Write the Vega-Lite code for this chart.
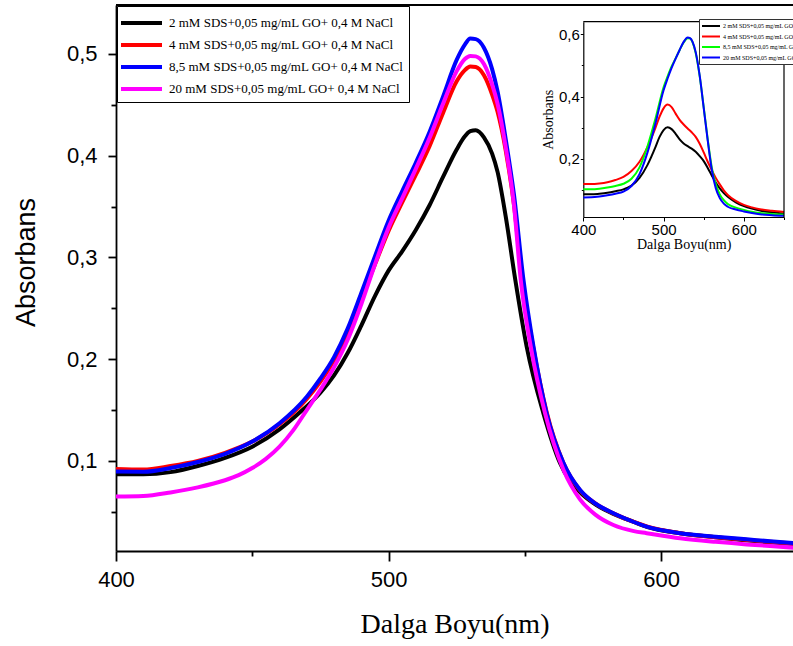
{
  "$schema": "https://vega.github.io/schema/vega-lite/v6.json",
  "autosize": {"type": "none"},
  "padding": {"left": 116, "top": 5, "right": 0, "bottom": 95},
  "width": 677,
  "height": 546,
  "background": "white",
  "config": {
    "view": {"stroke": null},
    "font": "Liberation Sans",
    "axis": {"grid": false, "labelFlush": false, "domainColor": "black", "tickColor": "black", "labelColor": "black", "titleColor": "black", "titleFontWeight": "normal"}
  },
  "datasets": {
    "main": [
      {"c":"2","nm":400,"a":0.087},{"c":"2","nm":410,"a":0.0868},{"c":"2","nm":420,"a":0.089},{"c":"2","nm":430,"a":0.095},{"c":"2","nm":440,"a":0.103},{"c":"2","nm":450,"a":0.114},{"c":"2","nm":460,"a":0.131},{"c":"2","nm":468,"a":0.149},{"c":"2","nm":475,"a":0.167},{"c":"2","nm":480,"a":0.184},{"c":"2","nm":485,"a":0.206},{"c":"2","nm":490,"a":0.233},{"c":"2","nm":495,"a":0.262},{"c":"2","nm":500,"a":0.287},{"c":"2","nm":505,"a":0.306},{"c":"2","nm":510,"a":0.327},{"c":"2","nm":515,"a":0.351},{"c":"2","nm":520,"a":0.379},{"c":"2","nm":525,"a":0.406},{"c":"2","nm":528,"a":0.419},{"c":"2","nm":530,"a":0.424},{"c":"2","nm":532,"a":0.425},{"c":"2","nm":535,"a":0.418},{"c":"2","nm":538,"a":0.402},{"c":"2","nm":540,"a":0.384},{"c":"2","nm":543,"a":0.34},{"c":"2","nm":546.5,"a":0.278},{"c":"2","nm":550.7,"a":0.212},{"c":"2","nm":556.8,"a":0.147},{"c":"2","nm":562.9,"a":0.098},{"c":"2","nm":570,"a":0.07},{"c":"2","nm":576,"a":0.057},{"c":"2","nm":582.5,"a":0.048},{"c":"2","nm":590,"a":0.04},{"c":"2","nm":595,"a":0.035},{"c":"2","nm":607,"a":0.029},{"c":"2","nm":620,"a":0.025},{"c":"2","nm":631,"a":0.022},{"c":"2","nm":640,"a":0.02},{"c":"2","nm":650,"a":0.018},
      {"c":"4","nm":400,"a":0.092},{"c":"4","nm":410,"a":0.0915},{"c":"4","nm":420,"a":0.095},{"c":"4","nm":430,"a":0.1},{"c":"4","nm":440,"a":0.108},{"c":"4","nm":450,"a":0.119},{"c":"4","nm":460,"a":0.136},{"c":"4","nm":470,"a":0.161},{"c":"4","nm":475,"a":0.178},{"c":"4","nm":480,"a":0.199},{"c":"4","nm":485,"a":0.226},{"c":"4","nm":490,"a":0.259},{"c":"4","nm":495,"a":0.293},{"c":"4","nm":500,"a":0.326},{"c":"4","nm":505,"a":0.354},{"c":"4","nm":510,"a":0.381},{"c":"4","nm":515,"a":0.409},{"c":"4","nm":520,"a":0.442},{"c":"4","nm":525,"a":0.473},{"c":"4","nm":528,"a":0.484},{"c":"4","nm":530,"a":0.4875},{"c":"4","nm":532,"a":0.487},{"c":"4","nm":535,"a":0.479},{"c":"4","nm":538,"a":0.46},{"c":"4","nm":540,"a":0.443},{"c":"4","nm":543,"a":0.405},{"c":"4","nm":546,"a":0.352},{"c":"4","nm":549,"a":0.279},{"c":"4","nm":553,"a":0.213},{"c":"4","nm":558,"a":0.148},{"c":"4","nm":564,"a":0.099},{"c":"4","nm":570,"a":0.072},{"c":"4","nm":576,"a":0.058},{"c":"4","nm":582.5,"a":0.0485},{"c":"4","nm":590,"a":0.04},{"c":"4","nm":595,"a":0.0355},{"c":"4","nm":607,"a":0.029},{"c":"4","nm":620,"a":0.025},{"c":"4","nm":631,"a":0.0225},{"c":"4","nm":640,"a":0.0205},{"c":"4","nm":650,"a":0.0185},
      {"c":"8,5","nm":400,"a":0.0895},{"c":"8,5","nm":410,"a":0.0893},{"c":"8,5","nm":420,"a":0.093},{"c":"8,5","nm":430,"a":0.099},{"c":"8,5","nm":440,"a":0.107},{"c":"8,5","nm":450,"a":0.119},{"c":"8,5","nm":460,"a":0.137},{"c":"8,5","nm":470,"a":0.163},{"c":"8,5","nm":475,"a":0.181},{"c":"8,5","nm":480,"a":0.202},{"c":"8,5","nm":485,"a":0.23},{"c":"8,5","nm":490,"a":0.265},{"c":"8,5","nm":495,"a":0.301},{"c":"8,5","nm":500,"a":0.336},{"c":"8,5","nm":505,"a":0.365},{"c":"8,5","nm":510,"a":0.393},{"c":"8,5","nm":515,"a":0.423},{"c":"8,5","nm":520,"a":0.458},{"c":"8,5","nm":525,"a":0.494},{"c":"8,5","nm":528,"a":0.509},{"c":"8,5","nm":530,"a":0.515},{"c":"8,5","nm":532,"a":0.5145},{"c":"8,5","nm":535,"a":0.506},{"c":"8,5","nm":538,"a":0.485},{"c":"8,5","nm":540,"a":0.463},{"c":"8,5","nm":543,"a":0.416},{"c":"8,5","nm":546,"a":0.362},{"c":"8,5","nm":549.5,"a":0.278},{"c":"8,5","nm":553.2,"a":0.212},{"c":"8,5","nm":558,"a":0.147},{"c":"8,5","nm":564.2,"a":0.098},{"c":"8,5","nm":570.3,"a":0.0715},{"c":"8,5","nm":576,"a":0.058},{"c":"8,5","nm":582.5,"a":0.0486},{"c":"8,5","nm":590,"a":0.04},{"c":"8,5","nm":594.7,"a":0.0354},{"c":"8,5","nm":607,"a":0.029},{"c":"8,5","nm":620,"a":0.0255},{"c":"8,5","nm":631.4,"a":0.023},{"c":"8,5","nm":640,"a":0.021},{"c":"8,5","nm":650,"a":0.019},
      {"c":"20","nm":400,"a":0.065},{"c":"20","nm":410,"a":0.0655},{"c":"20","nm":420,"a":0.069},{"c":"20","nm":430,"a":0.074},{"c":"20","nm":440,"a":0.081},{"c":"20","nm":445,"a":0.086},{"c":"20","nm":450,"a":0.093},{"c":"20","nm":455,"a":0.102},{"c":"20","nm":460,"a":0.114},{"c":"20","nm":465,"a":0.13},{"c":"20","nm":470,"a":0.15},{"c":"20","nm":475,"a":0.17},{"c":"20","nm":480,"a":0.192},{"c":"20","nm":485,"a":0.219},{"c":"20","nm":490,"a":0.254},{"c":"20","nm":495,"a":0.293},{"c":"20","nm":500,"a":0.329},{"c":"20","nm":505,"a":0.358},{"c":"20","nm":510,"a":0.387},{"c":"20","nm":515,"a":0.417},{"c":"20","nm":520,"a":0.451},{"c":"20","nm":525,"a":0.483},{"c":"20","nm":528,"a":0.495},{"c":"20","nm":530,"a":0.498},{"c":"20","nm":532,"a":0.4975},{"c":"20","nm":535,"a":0.49},{"c":"20","nm":538,"a":0.47},{"c":"20","nm":540,"a":0.451},{"c":"20","nm":543,"a":0.408},{"c":"20","nm":546,"a":0.352},{"c":"20","nm":548.5,"a":0.278},{"c":"20","nm":552.2,"a":0.212},{"c":"20","nm":557.4,"a":0.147},{"c":"20","nm":564.2,"a":0.091},{"c":"20","nm":570.3,"a":0.062},{"c":"20","nm":576,"a":0.047},{"c":"20","nm":582.5,"a":0.037},{"c":"20","nm":590,"a":0.031},{"c":"20","nm":594.7,"a":0.029},{"c":"20","nm":607,"a":0.024},{"c":"20","nm":620,"a":0.0205},{"c":"20","nm":631.4,"a":0.018},{"c":"20","nm":640,"a":0.0165},{"c":"20","nm":650,"a":0.0145}
    ],
    "inset": [
      {"c":"2","nm":400,"a":0.085},{"c":"2","nm":410,"a":0.085},{"c":"2","nm":420,"a":0.087},{"c":"2","nm":430,"a":0.09},{"c":"2","nm":440,"a":0.095},{"c":"2","nm":450,"a":0.101},{"c":"2","nm":460,"a":0.113},{"c":"2","nm":470,"a":0.138},{"c":"2","nm":480,"a":0.18},{"c":"2","nm":490,"a":0.238},{"c":"2","nm":495,"a":0.27},{"c":"2","nm":500,"a":0.292},{"c":"2","nm":505,"a":0.301},{"c":"2","nm":510,"a":0.295},{"c":"2","nm":515,"a":0.28},{"c":"2","nm":520,"a":0.262},{"c":"2","nm":525,"a":0.249},{"c":"2","nm":530,"a":0.24},{"c":"2","nm":535,"a":0.232},{"c":"2","nm":540,"a":0.222},{"c":"2","nm":545,"a":0.208},{"c":"2","nm":550,"a":0.192},{"c":"2","nm":555,"a":0.17},{"c":"2","nm":560,"a":0.146},{"c":"2","nm":565,"a":0.123},{"c":"2","nm":570,"a":0.104},{"c":"2","nm":575,"a":0.089},{"c":"2","nm":580,"a":0.077},{"c":"2","nm":590,"a":0.059},{"c":"2","nm":600,"a":0.047},{"c":"2","nm":610,"a":0.039},{"c":"2","nm":620,"a":0.033},{"c":"2","nm":635,"a":0.027},{"c":"2","nm":650,"a":0.023},
      {"c":"4","nm":400,"a":0.118},{"c":"4","nm":410,"a":0.118},{"c":"4","nm":420,"a":0.12},{"c":"4","nm":430,"a":0.124},{"c":"4","nm":440,"a":0.131},{"c":"4","nm":450,"a":0.141},{"c":"4","nm":460,"a":0.16},{"c":"4","nm":470,"a":0.19},{"c":"4","nm":480,"a":0.238},{"c":"4","nm":490,"a":0.3},{"c":"4","nm":495,"a":0.335},{"c":"4","nm":500,"a":0.362},{"c":"4","nm":505,"a":0.374},{"c":"4","nm":510,"a":0.366},{"c":"4","nm":515,"a":0.345},{"c":"4","nm":520,"a":0.325},{"c":"4","nm":525,"a":0.31},{"c":"4","nm":530,"a":0.297},{"c":"4","nm":535,"a":0.285},{"c":"4","nm":540,"a":0.27},{"c":"4","nm":545,"a":0.248},{"c":"4","nm":550,"a":0.22},{"c":"4","nm":555,"a":0.19},{"c":"4","nm":560,"a":0.163},{"c":"4","nm":565,"a":0.138},{"c":"4","nm":570,"a":0.117},{"c":"4","nm":575,"a":0.098},{"c":"4","nm":580,"a":0.083},{"c":"4","nm":590,"a":0.064},{"c":"4","nm":600,"a":0.051},{"c":"4","nm":610,"a":0.043},{"c":"4","nm":620,"a":0.037},{"c":"4","nm":635,"a":0.032},{"c":"4","nm":650,"a":0.028},
      {"c":"8,5","nm":400,"a":0.101},{"c":"8,5","nm":410,"a":0.101},{"c":"8,5","nm":420,"a":0.103},{"c":"8,5","nm":430,"a":0.107},{"c":"8,5","nm":440,"a":0.112},{"c":"8,5","nm":450,"a":0.119},{"c":"8,5","nm":460,"a":0.135},{"c":"8,5","nm":470,"a":0.172},{"c":"8,5","nm":480,"a":0.24},{"c":"8,5","nm":490,"a":0.33},{"c":"8,5","nm":500,"a":0.43},{"c":"8,5","nm":505,"a":0.465},{"c":"8,5","nm":510,"a":0.497},{"c":"8,5","nm":515,"a":0.523},{"c":"8,5","nm":520,"a":0.55},{"c":"8,5","nm":525,"a":0.574},{"c":"8,5","nm":530,"a":0.588},{"c":"8,5","nm":533,"a":0.587},{"c":"8,5","nm":536,"a":0.575},{"c":"8,5","nm":540,"a":0.54},{"c":"8,5","nm":545,"a":0.465},{"c":"8,5","nm":550,"a":0.365},{"c":"8,5","nm":555,"a":0.262},{"c":"8,5","nm":560,"a":0.172},{"c":"8,5","nm":565,"a":0.118},{"c":"8,5","nm":570,"a":0.085},{"c":"8,5","nm":575,"a":0.066},{"c":"8,5","nm":580,"a":0.054},{"c":"8,5","nm":590,"a":0.042},{"c":"8,5","nm":600,"a":0.035},{"c":"8,5","nm":610,"a":0.029},{"c":"8,5","nm":620,"a":0.025},{"c":"8,5","nm":635,"a":0.022},{"c":"8,5","nm":650,"a":0.02},
      {"c":"20","nm":400,"a":0.075},{"c":"20","nm":410,"a":0.0755},{"c":"20","nm":420,"a":0.078},{"c":"20","nm":430,"a":0.082},{"c":"20","nm":440,"a":0.087},{"c":"20","nm":450,"a":0.094},{"c":"20","nm":460,"a":0.112},{"c":"20","nm":470,"a":0.15},{"c":"20","nm":480,"a":0.22},{"c":"20","nm":490,"a":0.315},{"c":"20","nm":500,"a":0.42},{"c":"20","nm":505,"a":0.458},{"c":"20","nm":510,"a":0.492},{"c":"20","nm":515,"a":0.522},{"c":"20","nm":520,"a":0.55},{"c":"20","nm":525,"a":0.576},{"c":"20","nm":530,"a":0.59},{"c":"20","nm":533,"a":0.588},{"c":"20","nm":536,"a":0.577},{"c":"20","nm":540,"a":0.543},{"c":"20","nm":545,"a":0.467},{"c":"20","nm":550,"a":0.363},{"c":"20","nm":555,"a":0.258},{"c":"20","nm":560,"a":0.165},{"c":"20","nm":565,"a":0.105},{"c":"20","nm":570,"a":0.073},{"c":"20","nm":575,"a":0.055},{"c":"20","nm":580,"a":0.045},{"c":"20","nm":590,"a":0.036},{"c":"20","nm":600,"a":0.03},{"c":"20","nm":610,"a":0.025},{"c":"20","nm":620,"a":0.021},{"c":"20","nm":635,"a":0.018},{"c":"20","nm":650,"a":0.016}
    ]
  },
  "layer": [
    {
      "layer": [
        {
          "data": {"name": "main"},
          "mark": {"type": "line", "strokeWidth": 4, "interpolate": "monotone", "clip": true},
          "encoding": {
            "x": {"field": "nm", "type": "quantitative", "scale": {"domain": [400, 648.4], "nice": false, "zero": false},
              "axis": {"orient": "bottom", "values": [400, 450, 500, 550, 600], "labelExpr": "datum.value % 100 == 0 ? datum.label : ''", "format": "d",
                "tickSize": {"condition": {"test": "datum.value % 100 == 0", "value": 10}, "value": 5},
                "tickWidth": 1.8, "domainWidth": 1.8, "labelFont": "Liberation Sans", "labelFontSize": 22, "labelPadding": 8,
                "title": "Dalga Boyu(nm)", "titleFont": "Liberation Serif", "titleFontSize": 28, "titlePadding": 20}},
            "y": {"field": "a", "type": "quantitative", "scale": {"domain": [0.0115, 0.548], "nice": false, "zero": false},
              "axis": {"orient": "left", "values": [0.05, 0.1, 0.15, 0.2, 0.25, 0.3, 0.35, 0.4, 0.45, 0.5],
                "labelExpr": "abs(datum.value*10 - round(datum.value*10)) < 0.001 ? replace(format(datum.value, '.1f'), '.', ',') : ''",
                "tickSize": {"condition": {"test": "abs(datum.value*10 - round(datum.value*10)) < 0.001", "value": 8}, "value": 5},
                "tickWidth": 1.8, "domainWidth": 1.8, "labelFont": "Liberation Sans", "labelFontSize": 22, "labelPadding": 11,
                "title": "Absorbans", "titleFont": "Liberation Sans", "titleFontSize": 27, "titlePadding": 26, "titleY": 257}},
            "color": {"field": "c", "type": "nominal",
              "scale": {"domain": ["2", "4", "8,5", "20"], "range": ["#000000", "#ff0000", "#0000ff", "#ff00ff"]},
              "legend": {"orient": "none", "legendX": 1, "legendY": 1, "title": null,
                "labelExpr": "datum.label + ' mM SDS+0,05 mg/mL GO+ 0,4 M NaCl'",
                "symbolType": "M-1.3,0H2.8", "symbolSize": 400, "symbolStrokeWidth": 4,
                "labelFont": "Liberation Serif", "labelFontSize": 13, "labelColor": "black", "labelOffset": 23, "labelLimit": 0,
                "rowPadding": 2, "padding": 5, "strokeColor": "black", "fillColor": "white"}}
          }
        },
        {
          "data": {"values": [{}]},
          "mark": {"type": "rule", "color": "black", "strokeWidth": 2},
          "encoding": {"y": {"datum": 0.548}}
        }
      ]
    },
    {
      "layer": [
        {
          "data": {"name": "inset"},
          "mark": {"type": "line", "strokeWidth": 2, "interpolate": "monotone"},
          "encoding": {
            "x": {"field": "nm", "type": "quantitative", "scale": {"domain": [400, 650], "nice": false, "zero": false, "range": [467.3, 668]},
              "axis": {"orient": "bottom", "offset": -334, "values": [400, 450, 500, 550, 600, 650], "labelExpr": "datum.value % 100 == 0 ? datum.label : ''", "format": "d",
                "tickSize": {"condition": {"test": "datum.value % 100 == 0", "value": 4}, "value": 2.5},
                "tickWidth": 1, "domainWidth": 1.2, "labelFont": "Liberation Sans", "labelFontSize": 15, "labelPadding": 1,
                "title": "Dalga Boyu(nm)", "titleFont": "Liberation Serif", "titleFontSize": 14, "titlePadding": 0}},
            "y": {"field": "a", "type": "quantitative", "scale": {"domain": [0.012, 0.641], "nice": false, "zero": false, "range": [212, 16.7]},
              "axis": {"orient": "left", "offset": -467.3, "values": [0.1, 0.2, 0.3, 0.4, 0.5, 0.6],
                "labelExpr": "abs(datum.value*5 - round(datum.value*5)) < 0.001 ? replace(format(datum.value, '.1f'), '.', ',') : ''",
                "tickSize": {"condition": {"test": "abs(datum.value*5 - round(datum.value*5)) < 0.001", "value": 3}, "value": 2},
                "tickWidth": 1, "domainWidth": 1.2, "labelFont": "Liberation Sans", "labelFontSize": 15, "labelPadding": 1,
                "title": "Absorbans", "titleFont": "Liberation Serif", "titleFontSize": 14, "titlePadding": 3}},
            "color": {"field": "c", "type": "nominal",
              "scale": {"domain": ["2", "4", "8,5", "20"], "range": ["#000000", "#ff0000", "#00ff00", "#0000ff"]},
              "legend": {"orient": "none", "legendX": 583, "legendY": 14, "title": null,
                "labelExpr": "datum.label + ' mM SDS+0,05 mg/mL GO'",
                "symbolType": "M-1,0H3.5", "symbolSize": 64, "symbolStrokeWidth": 2,
                "labelFont": "Liberation Serif", "labelFontSize": 6, "labelColor": "black", "labelOffset": 12, "labelLimit": 0,
                "rowPadding": 1.5, "padding": 2, "strokeColor": "#333333", "fillColor": "white"}}
          }
        },
        {
          "data": {"values": [{}]},
          "mark": {"type": "rule", "color": "black", "strokeWidth": 1.2},
          "encoding": {"x": {"datum": 400}, "x2": {"datum": 650}, "y": {"datum": 0.641}}
        },
        {
          "data": {"values": [{}]},
          "mark": {"type": "rule", "color": "black", "strokeWidth": 1.2},
          "encoding": {"x": {"datum": 650}, "y": {"datum": 0.012}, "y2": {"datum": 0.641}}
        }
      ]
    }
  ],
  "resolve": {
    "scale": {"x": "independent", "y": "independent", "color": "independent"},
    "axis": {"x": "independent", "y": "independent"},
    "legend": {"color": "independent"}
  }
}
